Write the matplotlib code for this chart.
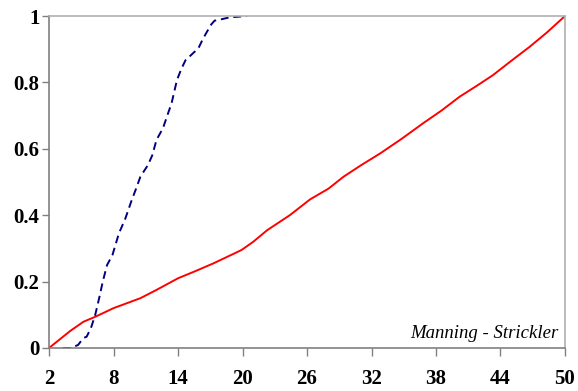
import matplotlib
matplotlib.use('Agg')
import matplotlib.pyplot as plt

# Red curve (Manning - Strickler, solid)
red_x = [2.0, 3.0, 4.0, 5.2, 6.3, 8.0, 10.5, 12.0, 14.0, 15.5, 17.3, 19.9, 21.0,
         22.3, 24.4, 26.3, 28.0, 29.4, 31.0, 32.8, 34.8, 36.8, 38.5, 40.2, 41.8,
         43.3, 45.0, 46.7, 48.3, 50.0]
red_y = [0.0, 0.026, 0.052, 0.079, 0.094, 0.12, 0.15, 0.175, 0.21, 0.23, 0.255,
         0.295, 0.32, 0.355, 0.40, 0.448, 0.48, 0.516, 0.55, 0.586, 0.63, 0.677,
         0.715, 0.757, 0.79, 0.822, 0.865, 0.907, 0.95, 1.0]

# Blue curve (dashed)
blue_x = [3.3, 4.0, 4.7, 5.2, 5.5, 5.9, 6.3, 6.7, 7.0, 7.4, 7.9, 8.5, 9.1,
          9.7, 10.1, 10.5, 11.2, 11.6, 12.0, 12.6, 13.0, 13.4, 13.9, 14.3,
          14.7, 15.3, 15.9, 16.3, 16.7, 17.1, 17.4, 18.0, 18.8, 19.6, 20.4]
blue_y = [0.0, 0.0, 0.009, 0.03, 0.034, 0.06, 0.10, 0.155, 0.20, 0.25, 0.28,
          0.345, 0.39, 0.446, 0.48, 0.516, 0.551, 0.58, 0.627, 0.662, 0.70,
          0.737, 0.807, 0.84, 0.867, 0.885, 0.903, 0.93, 0.953, 0.975, 0.986,
          0.99, 0.996, 0.998, 1.0]

x_ticks = [2, 8, 14, 20, 26, 32, 38, 44, 50]
y_ticks = [0, 0.2, 0.4, 0.6, 0.8, 1]
y_tick_labels = ['0', '0.2', '0.4', '0.6', '0.8', '1']
label_text = 'Manning - Strickler'

plt.rcParams['font.family'] = ['Liberation Serif', 'DejaVu Serif']

fig = plt.figure(figsize=(5.78, 3.91), dpi=100)
ax = fig.add_axes([0.0848, 0.11, 0.8927, 0.849])

ax.plot(red_x, red_y, color='#ff0000', lw=1.4)
ax.plot(blue_x, blue_y, color='#000080', lw=1.4, ls=(0, (4, 2.5)))

ax.set_xlim(2, 50)
ax.set_ylim(0, 1)
ax.set_xticks(x_ticks)
ax.set_yticks(y_ticks)
ax.set_yticklabels(y_tick_labels)

for lbl in ax.get_xticklabels() + ax.get_yticklabels():
    lbl.set_fontweight('bold')
    lbl.set_fontsize(15)

ax.tick_params(axis='x', direction='out', length=6, width=1, color='#808080', pad=9)
ax.tick_params(axis='y', direction='out', length=5, width=1, color='#808080', pad=2)

for side in ['left', 'bottom']:
    ax.spines[side].set_color('#808080')
    ax.spines[side].set_linewidth(1.2)
for side in ['top', 'right']:
    ax.spines[side].set_color('#b0b0b0')
    ax.spines[side].set_linewidth(1.2)

ax.text(0.988, 0.03, label_text, transform=ax.transAxes, ha='right', va='baseline',
        fontsize=13.5, style='italic')

fig.savefig('out.png', dpi=100)
